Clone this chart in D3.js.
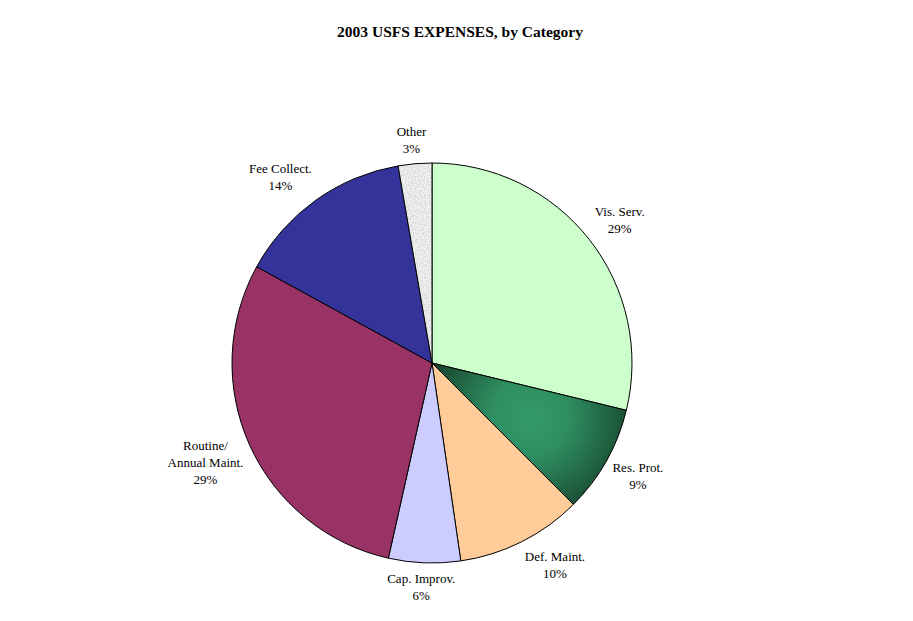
<!DOCTYPE html>
<html><head><meta charset="utf-8">
<script src="https://cdn.jsdelivr.net/npm/d3@7"></script>
<style>body{margin:0;background:#fff;} svg{display:block;}</style>
</head><body>
<svg id="c" width="913" height="621"></svg>
<script>
const categories = ["Vis. Serv.", "Res. Prot.", "Def. Maint.", "Cap. Improv.", "Routine/\nAnnual Maint.", "Fee Collect.", "Other"];
const values = [28.8, 8.7, 10.2, 5.8, 29.49, 14.3, 2.71];
const colors = ["#ccffcc", "url(#resGrad)", "#ffcc99", "#ccccff", "#993366", "#333399", "url(#otherPat)"];

const svg = d3.select("#c");
const cx = 432, cy = 363, R = 200, labelD = 207;
const FONT = "'Liberation Serif', 'Times New Roman', serif";

const pie = d3.pie().sort(null).value(d => d)(values);
const arc = d3.arc().innerRadius(0).outerRadius(R);

const defs = svg.append("defs");
// gradient for Res. Prot. (local coords of the pie group)
const resMid = (pie[1].startAngle + pie[1].endAngle) / 2;
const rg = defs.append("radialGradient").attr("id","resGrad")
  .attr("gradientUnits","userSpaceOnUse")
  .attr("cx", 112*Math.sin(resMid)).attr("cy", -112*Math.cos(resMid)).attr("r", 112);
rg.append("stop").attr("offset","0%").attr("stop-color","#349a6a");
rg.append("stop").attr("offset","35%").attr("stop-color","#2f8e60");
rg.append("stop").attr("offset","75%").attr("stop-color","#1f5e3f");
rg.append("stop").attr("offset","100%").attr("stop-color","#153f2a");
// texture for Other
const f = defs.append("filter").attr("id","noise").attr("x",0).attr("y",0).attr("width","100%").attr("height","100%")
  .attr("color-interpolation-filters","sRGB");
f.append("feTurbulence").attr("type","fractalNoise").attr("baseFrequency",0.8).attr("numOctaves",2).attr("seed",3);
f.append("feColorMatrix").attr("type","matrix")
  .attr("values","0.3 0 0 0 0.76  0.3 0 0 0 0.76  0.3 0 0 0 0.76  0 0 0 0 1");
const pat = defs.append("pattern").attr("id","otherPat").attr("patternUnits","userSpaceOnUse")
  .attr("width",200).attr("height",200);
pat.append("rect").attr("width",200).attr("height",200).attr("fill","#ececec").attr("filter","url(#noise)");

svg.append("text").attr("x",460).attr("y",37).attr("text-anchor","middle")
  .attr("font-family",FONT).attr("font-weight","bold")
  .attr("font-size",15.5).text("2003 USFS EXPENSES, by Category");

const g = svg.append("g").attr("transform",`translate(${cx},${cy})`);
g.selectAll("path").data(pie).join("path")
  .attr("d", arc)
  .attr("fill", (d,i) => colors[i])
  .attr("stroke","#000").attr("stroke-width",1).attr("stroke-linejoin","round");

const total = d3.sum(values);
const lh = 17;
const clamp = v => Math.max(-1, Math.min(1, v));
g.selectAll("text.lab").data(pie).join("text").attr("class","lab")
  .attr("font-family",FONT).attr("font-size",13)
  .attr("text-anchor","middle").attr("fill","#000")
  .each(function(d,i){
    const t = d3.select(this);
    const lines = categories[i].split("\n").concat([Math.round(d.value/total*100) + "%"]);
    lines.forEach(s => t.append("tspan").text(s));
    let w = 0;
    t.selectAll("tspan").each(function(){ w = Math.max(w, this.getComputedTextLength()); });
    const h = lines.length * lh;
    const a = (d.startAngle + d.endAngle)/2;
    const px = labelD*Math.sin(a), py = -labelD*Math.cos(a);
    const x = px + w/2*clamp(2.3*Math.sin(a));
    const y = py - h/2*clamp(1.4*Math.cos(a));
    const y0 = y - (lines.length-1)*lh/2 + 4.5;
    t.selectAll("tspan").attr("x", x).attr("y", (s,k) => y0 + k*lh);
  });
</script>
</body></html>
